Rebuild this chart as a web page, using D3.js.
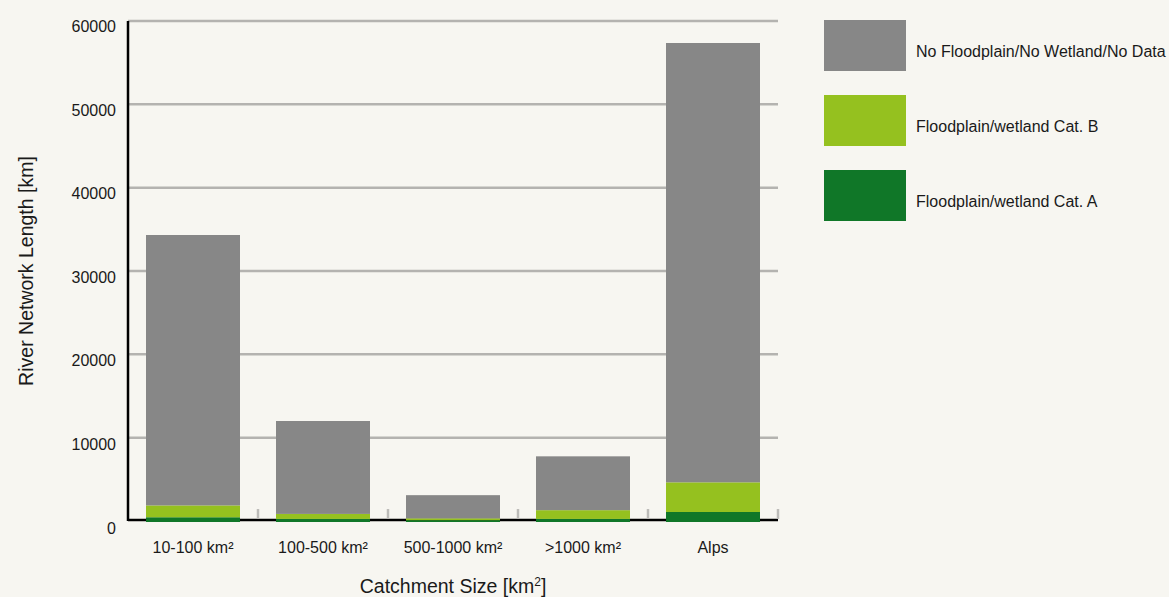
<!DOCTYPE html>
<html>
<head>
<meta charset="utf-8">
<script src="https://cdn.jsdelivr.net/npm/d3@7"></script>
<style>
  body { margin: 0; background: #f7f6f1; }
  svg { display: block; font-family: "Liberation Sans", Arial, sans-serif; }
</style>
</head>
<body>
<div id="chart-area"></div>
<script>
// values (km)
const categories = ["10-100 km²", "100-500 km²", "500-1000 km²", ">1000 km²", "Alps"];
const catA = [450, 250, 100, 250, 1080];
const catB = [1420, 600, 220, 1050, 3560];
const noData = [32450, 11150, 2780, 6460, 52720];
const yTicks = [0, 10000, 20000, 30000, 40000, 50000, 60000];

const seriesKeys = ["a", "b", "none"];
const seriesNames = {
    none: "No Floodplain/No Wetland/No Data",
    b: "Floodplain/wetland Cat. B",
    a: "Floodplain/wetland Cat. A"
};
const colors = { a: "#107728", b: "#95c11f", none: "#878787" };

const table = categories.map((c, i) => ({ cat: c, a: catA[i], b: catB[i], none: noData[i] }));

const W = 1169, H = 597;
const margin = { top: 21, left: 128 };
const plotW = 650, plotH = 500;

const svg = d3.select('#chart-area')
    .append('svg')
    .attr('width', W)
    .attr('height', H);

svg.append('rect').attr('width', W).attr('height', H).attr('fill', '#f7f6f1');

const x = d3.scaleBand()
    .domain(categories)
    .range([margin.left, margin.left + plotW])
    .padding(0);

const y = d3.scaleLinear()
    .domain([0, 60000])
    .range([margin.top + plotH, margin.top]);

const barW = x.bandwidth() * 0.723;

// grid lines
svg.append('g')
    .selectAll('line')
    .data(yTicks.filter(d => d > 0))
    .enter()
    .append('line')
    .attr('x1', margin.left)
    .attr('x2', margin.left + plotW)
    .attr('y1', d => y(d))
    .attr('y2', d => y(d))
    .attr('stroke', '#b4b3b0')
    .attr('stroke-width', 2.5);

// y tick labels
svg.append('g')
    .selectAll('text')
    .data(yTicks)
    .enter()
    .append('text')
    .attr('x', 116)
    .attr('y', d => y(d) + 11 + (60000 - d) / 60000 * 1.5)
    .attr('text-anchor', 'end')
    .attr('font-size', 16)
    .attr('fill', '#1a1a1a')
    .text(d => d);

// baseline
svg.append('line')
    .attr('x1', margin.left)
    .attr('x2', margin.left + plotW)
    .attr('y1', y(0) - 1)
    .attr('y2', y(0) - 1)
    .attr('stroke', '#000')
    .attr('stroke-width', 2.5);

// small ticks between categories
svg.append('g')
    .selectAll('line')
    .data(categories)
    .enter()
    .append('line')
    .attr('x1', d => x(d) + x.bandwidth())
    .attr('x2', d => x(d) + x.bandwidth())
    .attr('y1', y(0) - 12)
    .attr('y2', y(0) - 2)
    .attr('stroke', '#bdbcb9')
    .attr('stroke-width', 2.5);

// stacked bars
const stacked = d3.stack().keys(seriesKeys)(table);

svg.append('g')
    .selectAll('g')
    .data(stacked)
    .enter()
    .append('g')
    .attr('fill', d => colors[d.key])
    .selectAll('rect')
    .data(d => d)
    .enter()
    .append('rect')
    .attr('x', d => x(d.data.cat) + (x.bandwidth() - barW) / 2)
    .attr('y', d => y(d[1]))
    .attr('width', barW)
    .attr('height', d => y(d[0]) - y(d[1]) + (d[0] === 0 ? 1 : 0));

// y axis line
svg.append('line')
    .attr('x1', margin.left)
    .attr('x2', margin.left)
    .attr('y1', y(60000))
    .attr('y2', y(0))
    .attr('stroke', '#000')
    .attr('stroke-width', 2.5);

// category labels
svg.append('g')
    .selectAll('text')
    .data(categories)
    .enter()
    .append('text')
    .attr('x', d => x(d) + x.bandwidth() / 2)
    .attr('y', 553)
    .attr('text-anchor', 'middle')
    .attr('font-size', 16)
    .attr('fill', '#1a1a1a')
    .text(d => d);

// axis titles
const xt = svg.append('text')
    .attr('x', 453)
    .attr('y', 593)
    .attr('text-anchor', 'middle')
    .attr('font-size', 19.5)
    .attr('fill', '#1a1a1a');
xt.append('tspan').text('Catchment Size [km');
xt.append('tspan').attr('font-size', 12).attr('dy', -7).text('2');
xt.append('tspan').attr('dy', 7).text(']');

svg.append('text')
    .attr('transform', 'translate(33, 271) rotate(-90)')
    .attr('text-anchor', 'middle')
    .attr('font-size', 19.5)
    .attr('fill', '#1a1a1a')
    .text('River Network Length [km]');

// legend
const legendOrder = ["none", "b", "a"];
const lg = svg.append('g')
    .selectAll('g')
    .data(legendOrder)
    .enter()
    .append('g')
    .attr('transform', (d, i) => `translate(824, ${20 + i * 75})`);

lg.append('rect')
    .attr('width', 82)
    .attr('height', 51)
    .attr('fill', d => colors[d]);

lg.append('text')
    .attr('x', 92)
    .attr('y', 37)
    .attr('font-size', 16)
    .attr('fill', '#1a1a1a')
    .text(d => seriesNames[d]);
</script>
</body>
</html>
